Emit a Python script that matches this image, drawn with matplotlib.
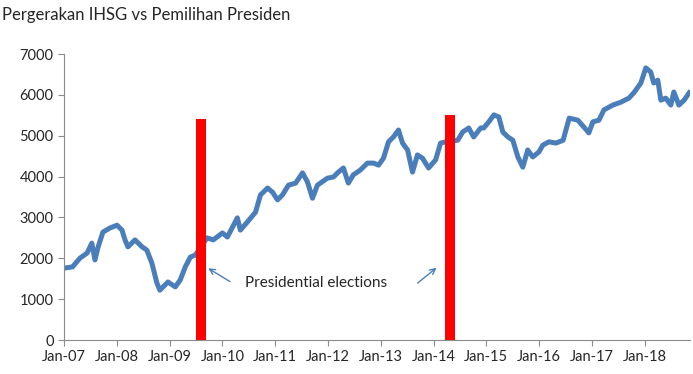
import pandas as pd
import numpy as np
import matplotlib
matplotlib.use('Agg')
import matplotlib.pyplot as plt
import matplotlib.dates as mdates

# IHSG
dates = ['2007-01-05', '2007-03-01', '2007-04-20', '2007-06-10', '2007-07-12', '2007-08-03',
         '2007-08-25', '2007-09-27', '2007-11-14', '2008-01-03', '2008-02-06', '2008-02-27',
         '2008-03-18', '2008-05-06', '2008-06-24', '2008-07-27', '2008-08-31', '2008-10-04',
         '2008-10-25', '2008-12-20', '2009-02-09', '2009-03-15', '2009-04-19', '2009-05-24',
         '2009-06-28', '2009-09-16', '2009-10-29', '2010-01-01', '2010-02-04', '2010-04-14',
         '2010-05-05', '2010-06-23', '2010-08-18', '2010-09-21', '2010-11-09', '2010-12-13',
         '2011-01-17', '2011-02-20', '2011-04-03', '2011-05-22', '2011-07-09', '2011-08-12',
         '2011-09-16', '2011-10-20', '2011-12-28', '2012-02-08', '2012-03-13', '2012-04-17',
         '2012-05-21', '2012-06-24', '2012-08-12', '2012-09-30', '2012-11-11', '2012-12-16',
         '2013-01-19', '2013-02-23', '2013-03-29', '2013-05-03', '2013-05-31', '2013-07-05',
         '2013-08-08', '2013-09-11', '2013-10-16', '2013-11-27', '2014-01-15', '2014-02-18',
         '2014-03-25', '2014-06-17', '2014-07-21', '2014-09-01', '2014-10-05', '2014-11-23',
         '2014-12-14', '2015-01-18', '2015-02-22', '2015-03-28', '2015-04-25', '2015-05-30',
         '2015-07-03', '2015-08-07', '2015-09-10', '2015-10-14', '2015-11-18', '2015-12-30',
         '2016-01-27', '2016-03-09', '2016-04-27', '2016-06-15', '2016-07-27', '2016-09-25',
         '2016-11-06', '2016-12-10', '2017-01-07', '2017-02-18', '2017-03-24', '2017-05-25',
         '2017-07-19', '2017-09-13', '2017-10-17', '2017-12-05', '2018-01-08', '2018-02-11',
         '2018-03-04', '2018-04-01', '2018-04-22', '2018-05-26', '2018-06-30', '2018-07-21',
         '2018-08-25', '2018-09-30', '2018-11-04']
ihsg = [1760, 1790, 2000, 2130, 2370, 1960,
        2280, 2640, 2740, 2810, 2690, 2450,
        2280, 2450, 2280, 2200, 1880, 1400,
        1220, 1420, 1300, 1470, 1790, 2030,
        2080, 2500, 2450, 2620, 2520, 2990,
        2690, 2890, 3130, 3550, 3720, 3620,
        3430, 3550, 3790, 3840, 4090, 3870,
        3470, 3790, 3960, 3990, 4110, 4210,
        3840, 4040, 4160, 4330, 4330, 4280,
        4450, 4850, 4970, 5140, 4820, 4650,
        4110, 4530, 4450, 4210, 4410, 4820,
        4850, 4890, 5090, 5190, 4970, 5190,
        5190, 5340, 5510, 5460, 5090, 4970,
        4890, 4480, 4230, 4650, 4480, 4600,
        4770, 4850, 4820, 4890, 5430, 5380,
        5210, 5070, 5340, 5380, 5630, 5750,
        5820, 5920, 6050, 6290, 6660, 6560,
        6290, 6360, 5870, 5920, 5750, 6070,
        5750, 5870, 6050]

# presidential elections
election_dates = ['2009-08-05', '2014-04-25']
election_bars = [5400, 5500]

dates = pd.to_datetime(dates)
election_dates = pd.to_datetime(election_dates)

plt.rcParams['font.family'] = ['Lato', 'DejaVu Sans']

fig = plt.figure(figsize=(6.93, 3.74), dpi=100)
ax = fig.add_axes([0.0924, 0.0909, 0.9033, 0.7647])

ax.plot(dates, ihsg, color='#4a7ebb', lw=3.6, solid_joinstyle='round', zorder=2)
ax.bar(election_dates, election_bars, width=70, color='#ff0000', zorder=3)

ax.set_xlim(pd.Timestamp('2007-01-01'), pd.Timestamp('2018-11-10'))
ax.set_ylim(0, 7000)
ax.set_yticks(np.arange(0, 7001, 1000))
ax.xaxis.set_major_locator(mdates.YearLocator())
ax.xaxis.set_major_formatter(mdates.DateFormatter('%b-%y'))

for s in ['top', 'right']:
    ax.spines[s].set_visible(False)
for s in ['left', 'bottom']:
    ax.spines[s].set_color('#8c8c8c')
ax.tick_params(axis='both', colors='#8c8c8c', labelcolor='#262626', labelsize=10.5, length=4)

ax.text(pd.Timestamp('2011-10-08'), 1395, 'Presidential elections', ha='center', va='center',
        fontsize=11, color='#262626')
arrow = dict(arrowstyle='->', color='#4a7ebb', lw=1)
ax.annotate('', xy=(pd.Timestamp('2009-09-08'), 1790), xytext=(pd.Timestamp('2010-03-10'), 1395),
            arrowprops=arrow)
ax.annotate('', xy=(pd.Timestamp('2014-02-05'), 1810), xytext=(pd.Timestamp('2013-08-28'), 1350),
            arrowprops=arrow)

fig.text(0.003, 1 - 15 / 374, 'Pergerakan IHSG vs Pemilihan Presiden', ha='left', va='center',
         fontsize=12, color='#262626')

fig.savefig('out.png', dpi=100)
